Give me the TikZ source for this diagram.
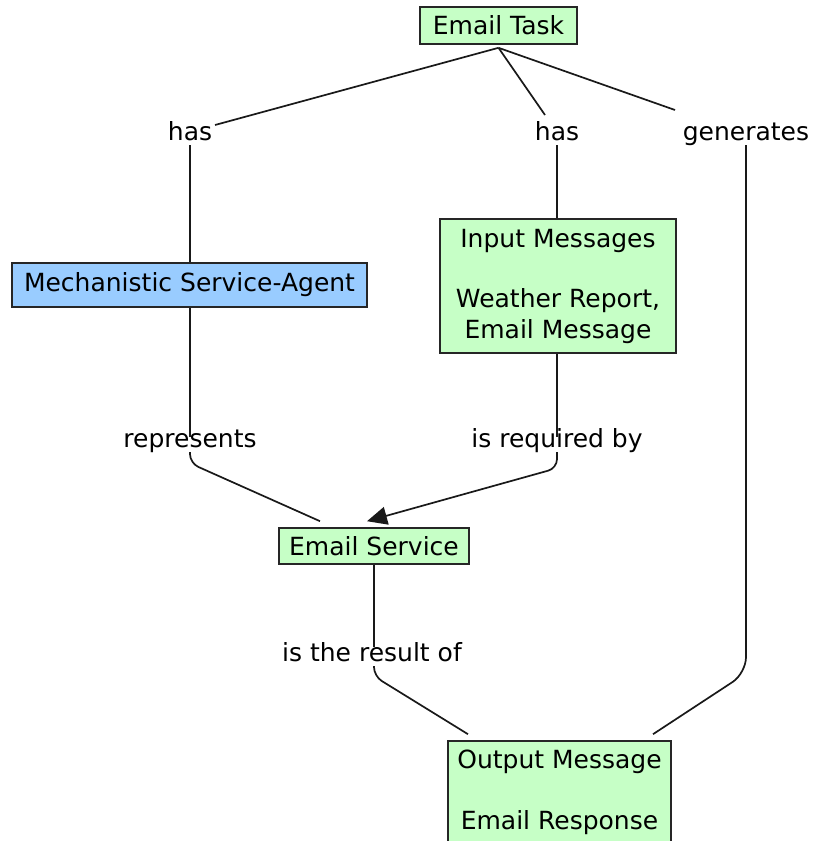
\documentclass[tikz,border=0pt]{standalone}
\usepackage{fontspec}
\setmainfont{DejaVu Sans}
\usetikzlibrary{arrows.meta}
\definecolor{conceptgreen}{RGB}{198,255,198}
\definecolor{agentblue}{RGB}{153,204,255}

\begin{document}
\begin{tikzpicture}[x=1pt,y=-1pt,
  font=\fontsize{25}{30.5}\selectfont,
  concept/.style={draw=black!85, line width=1.6pt, fill=conceptgreen, inner sep=0pt, align=center},
  agent/.style={concept, fill=agentblue},
  linkword/.style={inner xsep=4pt, inner ysep=3pt, text height=0.7em, text depth=0.2em, anchor=base},
  link/.style={line width=1.7pt, draw=black!90, rounded corners=9pt},
]
\fill[white] (0,0) rectangle (812,841);
\useasboundingbox (0,0) rectangle (812,841);

% concepts
\node[concept, minimum width=157pt, minimum height=37pt] (task) at (498.5,25.5) {Email Task};
\node[agent, minimum width=355pt, minimum height=44pt] (mech) at (189.5,285) {Mechanistic Service-Agent};
\node[concept, minimum width=236pt, minimum height=134pt] (inp) at (558,286) {Input Messages\\[30pt]Weather Report,\\Email Message};
\node[concept, minimum width=190pt, minimum height=36pt] (svc) at (374,546) {Email Service};
\node[concept, minimum width=223pt, minimum height=103pt] (out) at (559.5,792.5) {Output Message\\[30pt]Email Response};

% linking phrases
\node[linkword] (hasA) at (190,140) {has};
\node[linkword] (hasB) at (557,140) {has};
\node[linkword] (gen) at (746,140) {generates};
\node[linkword] (rep) at (190,447) {represents};
\node[linkword] (req) at (557,447) {is required by};
\node[linkword] (res) at (372,661) {is the result of};

% free ends of the connectors next to the phrases and concepts
\coordinate (hasAEnd) at ([xshift=25pt,yshift=15pt]hasA.base);
\coordinate (hasBEnd) at ([xshift=-12pt,yshift=25pt]hasB.base);
\coordinate (genStart) at ([xshift=-71pt,yshift=30pt]gen.base);
\coordinate (repEnd) at ([xshift=-54pt,yshift=6pt]svc.north);
\coordinate (reqEnd) at ([xshift=-7pt,yshift=6pt]svc.north);
\coordinate (resEnd) at ([xshift=-91.5pt,yshift=6pt]out.north);
\coordinate (genEnd) at ([xshift=93.5pt,yshift=6pt]out.north);

% connectors from the task
\draw[link] ([yshift=-3pt]task.south) -- (hasAEnd);
\draw[link] ([yshift=-3pt]task.south) -- (hasBEnd);
\draw[link] ([yshift=-3pt]task.south) -- (genStart);

% straight drops
\draw[link] (hasA.south) -- (hasA.south |- mech.north);
\draw[link] (hasB.south) -- (hasB.south |- inp.north);
\draw[link] (rep.north |- mech.south) -- (rep.north);
\draw[link] (req.north |- inp.south) -- (req.north);
\draw[link] (svc.south) -- ([yshift=4pt]svc.south |- res.north);

% bent connectors
\draw[link] (rep.south) -- ([yshift=-11pt]rep.south) -- (repEnd);
\draw[link, -{Triangle[length=20pt,width=18pt]}] (req.south) -- ([yshift=-16pt]req.south) -- (reqEnd);
\draw[link] ([xshift=2pt]res.south) -- ([xshift=2pt,yshift=-10pt]res.south) -- (resEnd);
\draw[link, rounded corners=16pt] (gen.south) -- ([yshift=61pt]gen.south |- genEnd) -- (genEnd);
\end{tikzpicture}
\end{document}
